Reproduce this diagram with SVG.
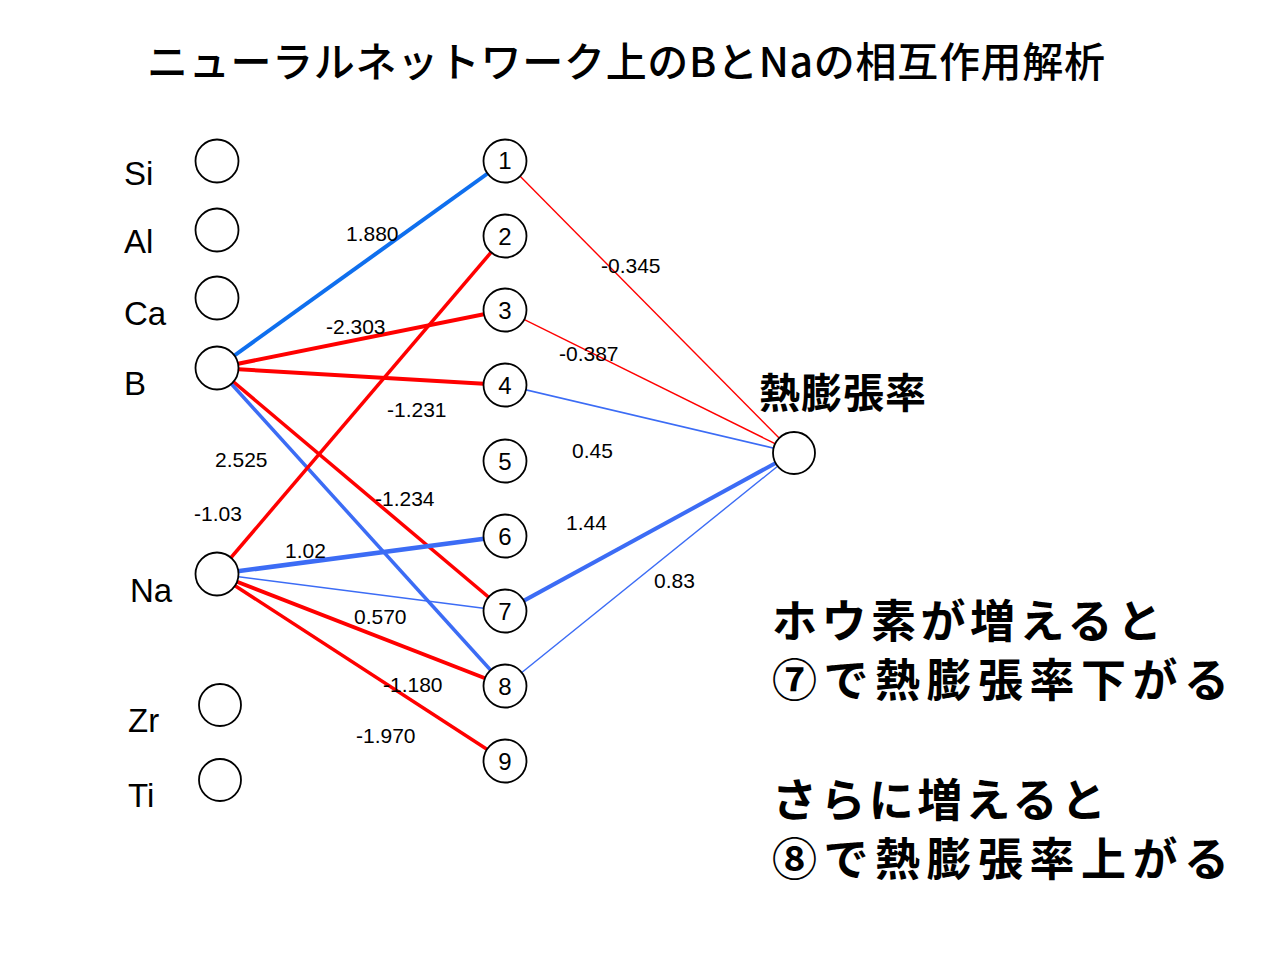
<svg xmlns="http://www.w3.org/2000/svg" width="1280" height="960" viewBox="0 0 1280 960">
<style>
.node{fill:#fff;stroke:#000;stroke-width:1.8}
.lbl{font-family:"Liberation Sans",Arial,sans-serif;font-size:33px;fill:#000}
.num{font-family:"Liberation Sans",Arial,sans-serif;font-size:24px;fill:#000;text-anchor:middle}
.w{font-family:"Liberation Sans",Arial,sans-serif;font-size:21px;fill:#000}
.jp{font-family:"Noto Sans CJK JP","Noto Sans CJK SC",sans-serif;fill:#000}
.bold{font-weight:bold}
.r{stroke:#FF0000;fill:none}
.b{stroke:#3C6CF5;fill:none}
.b1{stroke:#0F6FEE;fill:none}
</style>
<rect width="1280" height="960" fill="#fff"/>
<text class="jp" x="147" y="77" font-size="41" font-weight="500" textLength="958" lengthAdjust="spacing">ニューラルネットワーク上のBとNaの相互作用解析</text>
<g id="connectors">
<line class="b1" x1="217" y1="368" x2="505" y2="161" stroke-width="4"/>
<line class="r" x1="217" y1="368" x2="505" y2="310" stroke-width="4"/>
<line class="r" x1="217" y1="368" x2="505" y2="385" stroke-width="4"/>
<line class="r" x1="217" y1="368" x2="505" y2="611" stroke-width="3.5"/>
<line class="b" x1="217" y1="368" x2="505" y2="686" stroke-width="3.5"/>
<line class="r" x1="217" y1="574" x2="505" y2="236" stroke-width="3.5"/>
<line class="b" x1="217" y1="574" x2="505" y2="536" stroke-width="4.5"/>
<line class="b" x1="217" y1="574" x2="505" y2="611" stroke-width="1.6"/>
<line class="r" x1="217" y1="574" x2="505" y2="686" stroke-width="4"/>
<line class="r" x1="217" y1="574" x2="505" y2="761" stroke-width="3.5"/>
<line class="r" x1="505" y1="161" x2="794" y2="453" stroke-width="1.4"/>
<line class="r" x1="505" y1="310" x2="794" y2="453" stroke-width="1.4"/>
<line class="b" x1="505" y1="385" x2="794" y2="453" stroke-width="1.7"/>
<line class="b" x1="505" y1="611" x2="794" y2="453" stroke-width="4"/>
<line class="b" x1="505" y1="686" x2="794" y2="453" stroke-width="1.4"/>
</g>
<g id="weights">
<text class="w" x="346" y="241">1.880</text>
<text class="w" x="326" y="334">-2.303</text>
<text class="w" x="387" y="417">-1.231</text>
<text class="w" x="215" y="467">2.525</text>
<text class="w" x="194" y="521">-1.03</text>
<text class="w" x="375" y="506">-1.234</text>
<text class="w" x="285" y="558">1.02</text>
<text class="w" x="354" y="624">0.570</text>
<text class="w" x="383" y="692">-1.180</text>
<text class="w" x="356" y="743">-1.970</text>
<text class="w" x="601" y="273">-0.345</text>
<text class="w" x="559" y="361">-0.387</text>
<text class="w" x="572" y="458">0.45</text>
<text class="w" x="566" y="530">1.44</text>
<text class="w" x="654" y="588">0.83</text>
</g>
<g id="in-Si"><circle class="node" cx="217" cy="161" r="21.5"/><text class="lbl" x="124" y="185">Si</text></g>
<g id="in-Al"><circle class="node" cx="217" cy="230" r="21.5"/><text class="lbl" x="124" y="253">Al</text></g>
<g id="in-Ca"><circle class="node" cx="217" cy="298" r="21.5"/><text class="lbl" x="124" y="325">Ca</text></g>
<g id="in-B"><circle class="node" cx="217" cy="368" r="21.5"/><text class="lbl" x="124" y="395">B</text></g>
<g id="in-Na"><circle class="node" cx="217" cy="574" r="21.5"/><text class="lbl" x="130" y="602">Na</text></g>
<g id="in-Zr"><circle class="node" cx="220" cy="705" r="21"/><text class="lbl" x="128" y="732">Zr</text></g>
<g id="in-Ti"><circle class="node" cx="220" cy="780" r="21"/><text class="lbl" x="128" y="807">Ti</text></g>
<g id="h1"><circle class="node" cx="505" cy="161" r="21.5"/><text class="num" x="505" y="169">1</text></g>
<g id="h2"><circle class="node" cx="505" cy="236" r="21.5"/><text class="num" x="505" y="245">2</text></g>
<g id="h3"><circle class="node" cx="505" cy="310" r="21.5"/><text class="num" x="505" y="319">3</text></g>
<g id="h4"><circle class="node" cx="505" cy="385" r="21.5"/><text class="num" x="505" y="394">4</text></g>
<g id="h5"><circle class="node" cx="505" cy="461" r="21.5"/><text class="num" x="505" y="470">5</text></g>
<g id="h6"><circle class="node" cx="505" cy="536" r="21.5"/><text class="num" x="505" y="545">6</text></g>
<g id="h7"><circle class="node" cx="505" cy="611" r="21.5"/><text class="num" x="505" y="620">7</text></g>
<g id="h8"><circle class="node" cx="505" cy="686" r="21.5"/><text class="num" x="505" y="695">8</text></g>
<g id="h9"><circle class="node" cx="505" cy="761" r="21.5"/><text class="num" x="505" y="770">9</text></g>
<g id="out"><circle class="node" cx="794" cy="453" r="21"/><text class="jp bold" x="759" y="408" font-size="41" textLength="167" lengthAdjust="spacing">熱膨張率</text></g>
<g id="note">
<text class="jp bold" x="772" y="638" font-size="45" textLength="390" lengthAdjust="spacing">ホウ素が増えると</text>
<text class="jp bold" x="772" y="697" font-size="45" textLength="457" lengthAdjust="spacing">⑦で熱膨張率下がる</text>
<text class="jp bold" x="772" y="817" font-size="45" textLength="334" lengthAdjust="spacing">さらに増えると</text>
<text class="jp bold" x="772" y="876" font-size="45" textLength="457" lengthAdjust="spacing">⑧で熱膨張率上がる</text>
</g>
</svg>
